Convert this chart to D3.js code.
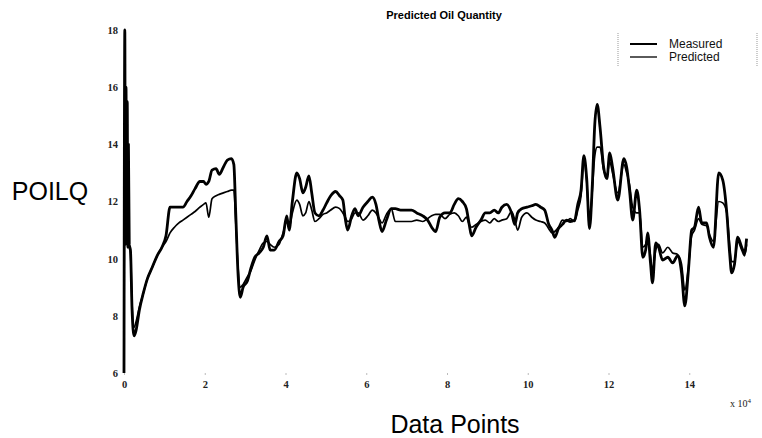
<!DOCTYPE html>
<html><head><meta charset="utf-8">
<script src="https://cdn.jsdelivr.net/npm/d3@7"></script>
<style>body{margin:0;background:#fff}svg{display:block}</style>
</head><body>
<script>
// Data points (x in units of 10^4)
const xs = [0.00,0.02,0.035,0.05,0.065,0.08,0.095,0.11,0.13,0.16,0.20,0.25,0.30,0.38,0.48,0.58,0.70,0.82,0.94,1.04,1.14,1.25,1.36,1.46,1.56,1.66,1.76,1.88,1.97,2.03,2.10,2.18,2.28,2.36,2.46,2.56,2.66,2.72,2.77,2.82,2.88,2.95,3.05,3.15,3.24,3.35,3.45,3.54,3.62,3.72,3.84,3.94,4.03,4.09,4.17,4.28,4.35,4.43,4.50,4.58,4.65,4.73,4.83,4.93,5.02,5.12,5.24,5.34,5.42,5.48,5.54,5.64,5.72,5.80,5.92,6.04,6.15,6.24,6.32,6.39,6.50,6.62,6.72,6.85,6.98,7.12,7.25,7.40,7.52,7.62,7.72,7.82,7.95,8.07,8.18,8.28,8.38,8.48,8.55,8.61,8.72,8.84,8.95,9.06,9.17,9.27,9.36,9.48,9.60,9.68,9.75,9.85,9.98,10.10,10.20,10.32,10.42,10.52,10.60,10.67,10.76,10.86,10.96,11.05,11.16,11.24,11.32,11.39,11.46,11.53,11.60,11.66,11.72,11.79,11.88,11.96,12.03,12.10,12.23,12.38,12.45,12.52,12.60,12.70,12.77,12.85,12.92,12.97,13.04,13.09,13.17,13.24,13.34,13.47,13.59,13.71,13.81,13.89,13.98,14.06,14.13,14.23,14.31,14.43,14.50,14.60,14.73,14.83,14.93,15.00,15.05,15.12,15.20,15.30,15.37,15.42];
const measured = [6.0,18.0,10.5,16.0,10.6,15.5,10.4,14.0,10.5,10.3,8.2,7.3,7.5,8.2,8.8,9.3,9.7,10.1,10.4,10.8,11.8,11.8,11.8,11.8,12.0,12.2,12.45,12.7,12.7,12.6,12.7,13.1,13.15,12.95,13.2,13.45,13.5,13.3,11.5,9.6,8.65,9.0,9.2,9.7,10.05,10.2,10.4,10.8,10.3,10.3,10.6,10.8,11.5,11.0,12.0,13.0,12.8,12.3,12.5,12.9,12.3,11.6,11.5,11.7,11.95,12.2,12.35,12.2,12.05,11.4,11.0,11.5,11.75,11.5,11.8,12.0,12.15,11.9,11.3,10.95,11.35,11.75,11.75,11.7,11.7,11.7,11.6,11.5,11.35,11.1,10.95,11.45,11.6,11.6,11.9,12.1,12.0,11.75,11.2,10.8,11.1,11.35,11.6,11.6,11.7,11.6,11.8,11.9,11.6,11.2,11.6,11.75,11.8,11.85,11.9,11.8,11.7,11.2,11.0,10.75,11.05,11.2,11.35,11.3,11.35,11.9,12.4,13.6,12.8,11.05,12.6,14.7,15.4,14.6,13.2,12.8,13.7,13.2,12.05,13.5,13.2,12.4,11.35,12.4,11.7,10.05,10.3,10.9,9.85,9.15,10.55,10.4,9.95,10.05,9.85,10.1,9.5,8.35,9.6,11.0,11.1,11.8,11.25,11.25,10.75,10.4,13.0,12.75,11.6,10.2,9.5,9.8,10.75,10.4,10.2,10.7];
const predicted = [6.5,15.6,10.6,15.0,10.5,14.0,10.6,12.0,10.4,10.2,8.4,7.6,7.8,8.3,8.8,9.3,9.7,10.1,10.4,10.6,10.9,11.1,11.25,11.35,11.45,11.55,11.65,11.8,11.9,11.95,11.45,12.1,12.2,12.25,12.3,12.35,12.4,12.4,11.2,9.8,9.0,9.1,9.35,9.6,9.95,10.3,10.55,10.6,10.5,10.4,10.5,10.9,11.3,11.1,11.6,12.05,11.9,11.5,11.6,12.0,11.7,11.3,11.4,11.55,11.6,11.7,11.8,11.75,11.6,11.45,11.3,11.4,11.6,11.6,11.35,11.5,11.7,11.6,11.4,11.25,11.55,11.75,11.3,11.3,11.3,11.3,11.35,11.3,11.4,11.5,11.55,11.55,11.4,11.55,11.6,11.5,11.3,11.45,11.2,11.1,11.2,11.3,11.35,11.25,11.4,11.3,11.35,11.4,11.65,11.35,11.0,11.45,11.6,11.45,11.35,11.3,11.25,11.05,10.9,10.95,11.1,11.35,11.3,11.4,11.3,11.7,12.2,13.4,12.7,11.2,12.4,13.6,13.9,13.9,13.1,12.9,13.4,13.0,12.3,13.3,13.0,12.6,11.8,11.6,11.6,10.4,10.5,10.7,10.1,9.6,10.3,10.5,10.2,10.4,10.2,10.15,9.8,8.9,9.7,10.8,11.0,11.4,11.2,11.15,10.85,10.6,12.0,11.95,11.6,10.5,9.9,9.9,10.6,10.3,10.1,10.5];
const xTicks = [0,2,4,6,8,10,12,14,16];
const yTicks = [6,8,10,12,14,16,18];
const seriesNames = ["Measured","Predicted"];

const W = 762, H = 438;
const svg = d3.select("body").append("svg").attr("width", W).attr("height", H);
const x = d3.scaleLinear().domain([0,16]).range([124,770]);
const y = d3.scaleLinear().domain([6,18]).range([373,30]);

// title
svg.append("text").attr("x",444).attr("y",19).attr("text-anchor","middle")
  .attr("font-family","Liberation Sans, Arial, sans-serif").attr("font-weight","bold")
  .attr("font-size",11).text("Predicted Oil Quantity");

// axes (tick labels only, faint ticks)
const xAxis = d3.axisBottom(x).tickValues(xTicks).tickSize(2).tickPadding(6).tickFormat(d3.format("d"));
const gx = svg.append("g").attr("transform",`translate(0,${y(6)})`).call(xAxis);
const yAxis = d3.axisLeft(y).tickValues(yTicks).tickSize(2).tickPadding(4).tickFormat(d3.format("d"));
const gy = svg.append("g").attr("transform",`translate(${x(0)},0)`).call(yAxis);
[gx,gy].forEach(g=>{
  g.select(".domain").remove();
  g.selectAll(".tick line").attr("stroke","#bbb");
  g.selectAll("text").attr("font-family","Liberation Serif, Times New Roman, serif")
    .attr("font-size",10.5).attr("font-weight","bold").attr("fill","#222");
});
gy.selectAll(".tick line").remove();

// x10^4
const ex = svg.append("text").attr("x",730).attr("y",407)
  .attr("font-family","Liberation Serif, serif").attr("font-size",10).attr("fill","#222");
ex.append("tspan").text("x 10");
ex.append("tspan").attr("dy",-4).attr("font-size",7).text("4");

// axis titles
svg.append("text").attr("x",50).attr("y",200).attr("text-anchor","middle")
  .attr("font-family","Liberation Sans, Arial, sans-serif").attr("font-size",25).text("POILQ");
svg.append("text").attr("x",455).attr("y",433).attr("text-anchor","middle")
  .attr("font-family","Liberation Sans, Arial, sans-serif").attr("font-size",25).text("Data Points");

// lines
const line = vals => d3.line().x((d,i)=>x(xs[i])).y(d=>y(d)).curve(d3.curveMonotoneX)(vals);
svg.append("path").attr("d",line(measured)).attr("fill","none").attr("stroke","#000")
  .attr("stroke-width",2.8).attr("stroke-linejoin","round");
svg.append("path").attr("d",line(predicted)).attr("fill","none").attr("stroke","#000")
  .attr("stroke-width",1.7).attr("stroke-linejoin","round");

// legend
const lg = svg.append("g");
lg.append("line").attr("x1",618).attr("x2",618).attr("y1",33).attr("y2",66).attr("stroke","#999").attr("stroke-dasharray","1,1");
lg.append("line").attr("x1",757).attr("x2",757).attr("y1",33).attr("y2",66).attr("stroke","#999").attr("stroke-dasharray","1,1");
seriesNames.forEach((n,i)=>{
  const yy = 44 + i*13;
  lg.append("line").attr("x1",630).attr("x2",657).attr("y1",yy).attr("y2",yy)
    .attr("stroke","#000").attr("stroke-width", i===0?2:1.3);
  lg.append("text").attr("x",669).attr("y",yy+4).attr("font-family","Liberation Sans, Arial, sans-serif")
    .attr("font-size",12).attr("fill","#111").text(n);
});
</script>
</body></html>
